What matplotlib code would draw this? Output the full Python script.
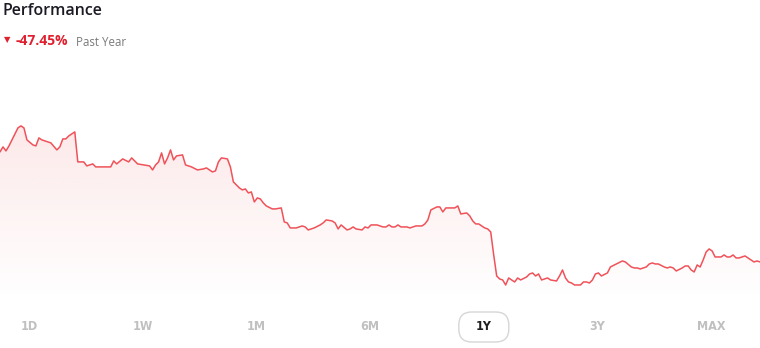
import matplotlib
matplotlib.use("Agg")
import matplotlib.pyplot as plt
import numpy as np
from matplotlib.colors import to_rgb
from matplotlib.patches import FancyBboxPatch
from matplotlib.transforms import IdentityTransform

# trading day index over the past year and closing price
days = [0, 1, 2, 3, 4, 6, 7, 8, 9, 11, 12, 13, 14, 16, 17, 19, 20, 21, 22, 23,
        24, 25, 26, 28, 29, 31, 32, 34, 37, 38, 39, 41, 43,
        44, 46, 48, 50, 51, 52, 53, 54, 55, 56, 57, 58, 59, 61, 62, 64, 66,
        68, 69, 71, 72, 73, 74, 76, 77, 78, 80, 81, 82, 83, 84, 85, 86,
        87, 88, 89, 91, 92, 94, 95, 96, 97, 99, 101, 102, 103, 105, 107, 108,
        109, 111, 112, 113, 114, 116, 117, 118, 119, 121, 122, 123, 124, 126,
        128, 129,
        130, 131, 132, 133, 134, 136, 137, 139, 141, 142, 143, 144, 146, 147,
        148, 149, 151, 152, 153, 154, 156, 157, 158, 159, 160, 162, 163, 164,
        165, 166, 167, 168, 169,
        170, 171, 172, 173, 174, 176, 177, 178, 179, 180, 181, 183, 184, 186,
        187, 188, 189, 190, 191, 192, 194, 195, 196, 197, 198, 199, 200, 201,
        203, 204, 206, 208, 209, 211, 212,
        213, 214, 216, 217, 218, 219, 220, 222, 223, 224, 225, 226, 228, 229,
        230, 231, 232, 233, 234, 235, 236, 237, 238, 239, 241, 242, 243, 244,
        245, 246, 247, 248, 249, 251, 252, 253, 254]
prices = [11.60, 11.85, 11.65, 11.90, 12.20, 12.80, 12.90, 12.80, 12.20, 11.95,
          11.90, 12.30, 12.20, 12.10, 12.05, 11.70, 11.85, 12.25, 12.25, 12.40,
          12.50, 12.60, 11.10, 11.10, 10.90, 11.00, 10.85, 10.85, 10.85, 11.15,
          11.00, 11.25, 11.10,
          11.30, 11.00, 10.95, 10.90, 10.70, 10.95, 11.10, 11.55, 11.00, 11.30,
          11.70, 11.20, 11.40, 11.45, 10.95, 10.85, 10.70,
          10.75, 10.80, 10.60, 10.65, 11.10, 11.30, 11.25, 10.85, 10.10, 9.80,
          9.70, 9.75, 9.55, 9.60, 9.10, 9.30,
          9.25, 9.05, 8.90, 8.75, 8.75, 8.80, 8.10, 8.05, 7.80, 7.80, 7.90, 7.85,
          7.70, 7.80, 7.95, 8.05, 8.20, 8.15, 8.05, 7.75, 7.95, 7.70, 7.75, 7.85,
          7.75, 7.70, 7.85, 7.80, 7.95, 7.95, 7.85, 7.85,
          7.95, 7.85, 7.85, 7.95, 7.85, 7.85, 7.80, 7.90, 7.90, 8.00, 8.20, 8.70,
          8.85, 8.85, 8.60, 8.80, 8.80, 8.80, 8.90, 8.50, 8.55, 8.40, 8.15, 8.00,
          8.00, 7.80, 7.75, 7.60, 6.45, 5.40, 5.25, 5.20, 4.95,
          5.30, 5.20, 5.10, 5.30, 5.20, 5.35, 5.50, 5.55, 5.40, 5.50, 5.20, 5.30,
          5.20, 5.15, 5.40, 5.70, 5.30, 5.10, 5.05, 4.95, 4.95, 5.10, 5.10, 5.05,
          5.20, 5.50, 5.55, 5.40, 5.55, 5.85, 6.00, 6.15, 6.10, 5.85, 5.80,
          5.80, 5.75, 5.85, 6.00, 6.05, 6.00, 6.00, 5.85, 5.80, 5.85, 5.80, 5.65,
          5.80, 5.90, 5.90, 5.70, 5.60, 5.95, 5.85, 6.20, 6.60, 6.75, 6.65, 6.35,
          6.35, 6.45, 6.35, 6.35, 6.45, 6.30, 6.30, 6.35, 6.40, 6.20, 6.10, 6.15,
          6.10]
ranges = ["1D", "1W", "1M", "6M", "1Y", "3Y", "MAX"]
selected = "1Y"
change = "-47.45%"

line_color = "#ef5259"
W, H = 760, 348

fig = plt.figure(figsize=(W / 100, H / 100), dpi=100)
ax = fig.add_axes([0, 0.138, 1, 0.69])
ax.set_xlim(days[0], days[-1])
ymin, ymax = 4.2, 16.2
ax.set_ylim(ymin, ymax)
ax.axis("off")

# gradient fill under the line
n = 256
rgba = np.zeros((n, 1, 4))
rgba[..., :3] = to_rgb(line_color)
rgba[..., 3] = np.linspace(0.13, 0.0, n).reshape(-1, 1)
im = ax.imshow(rgba, aspect="auto", origin="upper", zorder=1,
               extent=[days[0], days[-1], ymin, max(prices)])
poly = ax.fill_between(days, prices, ymin, facecolor="none", edgecolor="none")
im.set_clip_path(poly.get_paths()[0], transform=ax.transData)

ax.plot(days, prices, color=line_color, lw=1.1, zorder=3,
        solid_joinstyle="round", solid_capstyle="round")


def fx(px):
    return px / W


def fy(py):
    return 1 - py / H


fig.text(fx(3), fy(11), "Performance", fontsize=11.5, family="Open Sans",
         weight="semibold", color="#1b1b24", va="center", ha="left")
fig.text(fx(4), fy(40), "\u25bc", fontsize=6, color="#e0202e",
         va="center", ha="left")
fig.text(fx(16), fy(41), change, fontsize=10, family="Open Sans",
         weight="bold", color="#e0202e", va="center", ha="left")
fig.text(fx(76), fy(42), "Past Year", fontsize=8.3, family="Open Sans",
         color="#7a7a7a", va="center", ha="left")

for i, r in enumerate(ranges):
    cx = 29 + i * 113.7
    if r == selected:
        box = FancyBboxPatch((cx - 25, H - 342), 50, 30,
                             boxstyle="round,pad=0,rounding_size=13",
                             transform=IdentityTransform(), facecolor="white",
                             edgecolor="#d6d6d6", lw=1.0, zorder=2)
        fig.add_artist(box)
        col = "#1f1f1f"
    else:
        col = "#c0c0c0"
    fig.text(fx(cx), fy(327), r, fontsize=9, family="DejaVu Sans",
             stretch="condensed", weight="bold", color=col,
             ha="center", va="center", zorder=3)

fig.savefig("out.png", dpi=100)
